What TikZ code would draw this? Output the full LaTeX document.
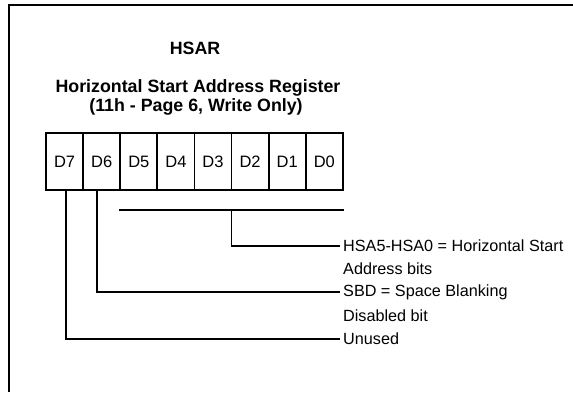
\documentclass[tikz,border=0pt]{standalone}
\usepackage{fontspec}
\setmainfont{Liberation Sans}
\usetikzlibrary{calc}
\begin{document}
\begin{tikzpicture}[x=1pt,y=-1pt,
  frame/.style={line width=1.9pt},
  wire/.style={line width=1.8pt},
  cell/.style={draw,line width=1.8pt,minimum width=37.1pt,minimum height=57pt,inner sep=0pt,font=\fontsize{16.5}{19}\selectfont},
  title/.style={inner sep=0pt,font=\fontsize{17.8}{20}\selectfont\bfseries},
  lbl/.style={anchor=west,inner sep=0pt,font=\fontsize{16.2}{19}\selectfont}]
\useasboundingbox (0,0) rectangle (573,392);
\draw[frame] (573,5) -- (9,5) -- (9,392);
\node[title] (t1) at (195,48) {HSAR};
\node[title] (t2) at (198,88) {Horizontal Start Address Register};
\node[title] (t3) at (196,107) {(11h - Page 6, Write Only)};
\foreach \n [count=\i from 0] in {7,6,5,4,3,2,1,0}
  \node[cell] (d\n) at ({64.6+37.1*\i},161.5) {D\n};
\node[lbl] (l1) at (343,245.7) {HSA5-HSA0 = Horizontal Start};
\node[lbl] (l1b) at (343,269) {Address bits};
\node[lbl] (l2) at (343,292.3) {SBD = Space Blanking};
\node[lbl] (l2b) at (343,315.5) {Disabled bit};
\node[lbl] (l3) at (343,338.7) {Unused};
\coordinate (bl) at ([yshift=-19pt]d5.south west);
\coordinate (br) at ([yshift=-19pt]d0.south east);
\coordinate (bm) at ($(bl)!0.5!(br)$);
\draw[wire] (bl) -- (br);
\draw[wire] (bm) |- ([xshift=-3pt]l1.west);
\draw[wire] ([xshift=-4.4pt]d6.south) |- ([xshift=-3pt]l2.west);
\draw[wire] ([xshift=1pt]d7.south) |- ([xshift=-3pt]l3.west);
\end{tikzpicture}
\end{document}
